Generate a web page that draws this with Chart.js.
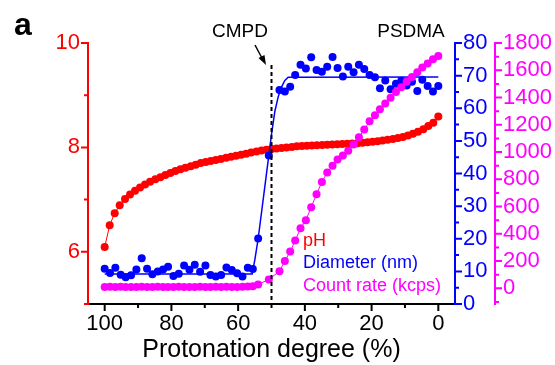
<!DOCTYPE html>
<html lang="en">
<head>
<meta charset="UTF-8">
<title>pH / diameter / count rate vs protonation degree</title>
<script src="https://cdn.jsdelivr.net/npm/chart.js"></script>
<style>
  html, body { margin: 0; padding: 0; background: #fff; }
  #wrap { width: 555px; height: 365px; }
</style>
</head>
<body>
<div id="wrap"><canvas id="chart" width="555" height="365"></canvas></div>
<script>
// titration: pH readings
const phX = [100.0, 98.5, 97.0, 95.5, 93.9, 92.4, 90.9, 89.4, 87.9, 86.4, 84.8, 83.3, 81.8, 80.3, 78.8, 77.3, 75.8,
  74.2, 72.7, 71.2, 69.7, 68.2, 66.7, 65.2, 63.6, 62.1, 60.6, 59.1, 57.6, 56.1, 54.5, 53.0, 51.5, 50.0, 48.5, 47.0,
  45.5, 43.9, 42.4, 40.9, 39.4, 37.9, 36.4, 34.8, 33.3, 31.8, 30.3, 28.8, 27.3, 25.8, 24.2, 22.7, 21.2, 19.7, 18.2,
  16.7, 15.2, 13.6, 12.1, 10.6, 9.1, 7.6, 6.1, 4.5, 3.0, 1.5, 0.0];
const phVals = [6.09, 6.51, 6.74, 6.89, 7.01, 7.10, 7.17, 7.23, 7.29, 7.34, 7.39, 7.43, 7.47, 7.51, 7.55, 7.58, 7.61,
  7.64, 7.67, 7.70, 7.72, 7.74, 7.76, 7.78, 7.80, 7.82, 7.84, 7.86, 7.88, 7.90, 7.92, 7.94, 7.955, 7.97, 7.98, 7.99,
  8.00, 8.01, 8.02, 8.025, 8.03, 8.035, 8.04, 8.045, 8.05, 8.055, 8.06, 8.065, 8.07, 8.075, 8.08, 8.09, 8.10, 8.11, 8.12,
  8.13, 8.145, 8.16, 8.18, 8.20, 8.23, 8.26, 8.30, 8.35, 8.41, 8.47, 8.59];

// DLS readings (diameter and count rate share the same x)
const dlsX = [100.0, 98.4, 96.8, 95.2, 93.7, 92.1, 90.5, 88.9, 87.3, 85.7, 84.1, 82.5, 81.0, 79.4, 77.8, 76.2, 74.6,
  73.0, 71.4, 69.8, 68.3, 66.7, 65.1, 63.5, 61.9, 60.3, 58.7, 57.1, 55.6, 54.0, 50.8, 47.6, 46.0, 44.4, 42.9, 41.3,
  39.7, 38.1, 36.5, 34.9, 33.3, 31.7, 30.2, 28.6, 27.0, 25.4, 23.8, 22.2, 20.6, 19.0, 17.5, 15.9, 14.3, 12.7, 11.1,
  9.5, 7.9, 6.3, 4.8, 3.2, 1.6, 0.0];
const diameter = [10.8, 9.5, 11.1, 9.0, 8.2, 8.8, 10.6, 14.0, 10.8, 9.1, 10.0, 10.6, 11.4, 8.6, 9.3, 11.8, 10.5,
  12.0, 9.9, 11.8, 8.9, 8.4, 8.9, 11.2, 10.4, 9.4, 8.4, 11.1, 10.7, 20.1, 45.5, 65.6, 65.1, 66.6, 70.2, 73.3,
  72.2, 75.6, 71.7, 71.2, 72.7, 75.7, 72.3, 69.7, 72.7, 71.0, 73.3, 72.0, 70.2, 69.5, 66.1, 68.5, 65.8, 67.5, 68.4,
  67.0, 68.1, 65.3, 68.7, 66.8, 65.1, 66.8];
const countRate = [10, 12, 10, 11, 10, 9, 10, 11, 10, 10, 12, 10, 9, 10, 11, 10, 10,
  9, 11, 10, 10, 12, 10, 11, 10, 10, 12, 13, 15, 28, 65, 125, 200, 270, 350, 440,
  500, 595, 690, 780, 850, 900, 945, 975, 1010, 1055, 1108, 1165, 1225, 1270, 1314, 1357, 1398, 1440, 1475,
  1515, 1550, 1585, 1620, 1650, 1680, 1705];

// fitted diameter curve
const fitX = [100, 55.8, 55, 54, 52, 50, 49, 48, 47, 46, 45, 0];
const fitD = [9.2, 9.2, 13.5, 20, 36, 52, 59, 63.5, 66.5, 68.5, 69.5, 69.6];

// tick labels / marks
const xMajor = [100, 80, 60, 40, 20, 0];
const xMinor = [90, 70, 50, 30, 10];
const phMajor = [6, 8, 10];
const phMinor = [5, 7, 9];
const dMajor = [0, 10, 20, 30, 40, 50, 60, 70, 80];
const dMinor = [5, 15, 25, 35, 45, 55, 65, 75];
const cMajor = [0, 200, 400, 600, 800, 1000, 1200, 1400, 1600, 1800];
const cMinor = [-100, 100, 300, 500, 700, 900, 1100, 1300, 1500, 1700];

const FONT = '"Liberation Sans", Arial, sans-serif';
const RED = '#ff0000', BLUE = '#0000ff', PINK = '#ff00ff';

function pts(xs, ys) { return xs.map((x, i) => ({ x: x, y: ys[i] })); }
function setTicks(vals) { return s => { s.ticks = vals.map(v => ({ value: v })); }; }
const plain = v => String(v);

// short minor ticks + long major ticks, plus the text and markers on top
const decorPlugin = {
  id: 'decor',
  afterDraw(chart) {
    const ctx = chart.ctx;
    const a = chart.chartArea;
    const sx = chart.scales.x, sy = chart.scales.y, s1 = chart.scales.y1, s2 = chart.scales.y2;
    ctx.save();
    ctx.lineWidth = 2;

    function yTicks(scale, x0, dir, majors, minors, color) {
      ctx.strokeStyle = color;
      ctx.beginPath();
      majors.forEach(v => { const y = scale.getPixelForValue(v); ctx.moveTo(x0, y); ctx.lineTo(x0 + dir * 7, y); });
      minors.forEach(v => { const y = scale.getPixelForValue(v); ctx.moveTo(x0, y); ctx.lineTo(x0 + dir * 4, y); });
      ctx.stroke();
    }
    yTicks(sy, a.left, -1, phMajor, phMinor, RED);
    yTicks(s1, s1.left, 1, dMajor, dMinor, BLUE);
    yTicks(s2, s2.left, 1, cMajor, cMinor, PINK);

    ctx.strokeStyle = '#000';
    ctx.beginPath();
    xMajor.forEach(v => { const x = sx.getPixelForValue(v); ctx.moveTo(x, a.bottom); ctx.lineTo(x, a.bottom + 7); });
    xMinor.forEach(v => { const x = sx.getPixelForValue(v); ctx.moveTo(x, a.bottom); ctx.lineTo(x, a.bottom + 4); });
    ctx.stroke();

    // CMPD marker line
    const xc = sx.getPixelForValue(50);
    ctx.setLineDash([4, 3]);
    ctx.lineWidth = 2;
    ctx.beginPath();
    ctx.moveTo(xc, 65);
    ctx.lineTo(xc, a.bottom);
    ctx.stroke();
    ctx.setLineDash([]);

    // arrow
    ctx.lineWidth = 1.5;
    ctx.beginPath();
    ctx.moveTo(255, 45);
    ctx.lineTo(263, 60);
    ctx.stroke();
    ctx.fillStyle = '#000';
    ctx.beginPath();
    ctx.moveTo(266, 65);
    ctx.lineTo(258.5, 58);
    ctx.lineTo(264.5, 55);
    ctx.closePath();
    ctx.fill();

    ctx.textBaseline = 'middle';
    ctx.textAlign = 'center';
    ctx.font = '19px ' + FONT;
    ctx.fillText('CMPD', 240, 32);
    ctx.fillText('PSDMA', 411, 32);

    ctx.font = 'bold 32px ' + FONT;
    ctx.textAlign = 'left';
    ctx.textBaseline = 'alphabetic';
    ctx.fillText('a', 14, 35);

    ctx.font = '18px ' + FONT;
    ctx.textBaseline = 'middle';
    ctx.fillStyle = RED;
    ctx.fillText('pH', 303, 241);
    ctx.fillStyle = BLUE;
    ctx.fillText('Diameter (nm)', 303, 263);
    ctx.fillStyle = PINK;
    ctx.fillText('Count rate (kcps)', 303, 286);
    ctx.restore();
  }
};

new Chart(document.getElementById('chart'), {
  type: 'scatter',
  data: {
    datasets: [
      {
        label: 'Count rate (kcps)',
        data: pts(dlsX, countRate),
        yAxisID: 'y2',
        order: 0,
        showLine: true,
        borderColor: PINK,
        borderWidth: 1,
        backgroundColor: PINK,
        pointRadius: 4,
        pointBorderWidth: 0
      },
      {
        label: 'Diameter (nm)',
        data: pts(dlsX, diameter),
        yAxisID: 'y1',
        order: 1,
        showLine: false,
        borderColor: BLUE,
        backgroundColor: BLUE,
        pointRadius: 4,
        pointBorderWidth: 0
      },
      {
        label: 'fit',
        data: pts(fitX, fitD),
        yAxisID: 'y1',
        order: 2,
        showLine: true,
        borderColor: BLUE,
        borderWidth: 1.5,
        pointRadius: 0,
        tension: 0
      },
      {
        label: 'pH',
        data: pts(phX, phVals),
        yAxisID: 'y',
        order: 3,
        showLine: true,
        borderColor: RED,
        borderWidth: 1,
        backgroundColor: RED,
        pointRadius: 4,
        pointBorderWidth: 0
      }
    ]
  },
  options: {
    responsive: false,
    animation: false,
    events: [],
    layout: { padding: { top: 43, left: 0, right: 0, bottom: 0 } },
    plugins: { legend: { display: false }, tooltip: { enabled: false } },
    scales: {
      x: {
        type: 'linear',
        position: 'bottom',
        reverse: true,
        min: -5,
        max: 105,
        afterBuildTicks: setTicks(xMajor),
        afterFit: s => { s.height = 61; },
        grid: { display: false, drawTicks: true, tickLength: 7 },
        border: { display: true, color: '#000', width: 2 },
        ticks: { color: '#000', font: { family: FONT, size: 22 }, padding: 0, maxRotation: 0,
          autoSkip: false, callback: plain },
        title: { display: true, text: 'Protonation degree (%)', color: '#000',
          font: { family: FONT, size: 25 }, padding: { top: 0, bottom: 0 } }
      },
      y: {
        type: 'linear',
        position: 'left',
        min: 5,
        max: 10,
        afterBuildTicks: setTicks(phMajor),
        afterFit: s => { s.width = 88; },
        grid: { display: false, drawTicks: true, tickLength: 7 },
        border: { display: true, color: RED, width: 2 },
        ticks: { color: RED, font: { family: FONT, size: 22 }, padding: 1, autoSkip: false, callback: plain }
      },
      y1: {
        type: 'linear',
        position: 'right',
        min: 0,
        max: 80,
        afterBuildTicks: setTicks(dMajor),
        afterFit: s => { s.width = 40; },
        grid: { display: false, drawTicks: true, tickLength: 7 },
        border: { display: true, color: BLUE, width: 2 },
        ticks: { color: BLUE, font: { family: FONT, size: 22 }, padding: 1, autoSkip: false, callback: plain }
      },
      y2: {
        type: 'linear',
        position: 'right',
        min: -115,
        max: 1800,
        afterBuildTicks: setTicks(cMajor),
        afterFit: s => { s.width = 60; },
        grid: { display: false, drawTicks: true, tickLength: 7 },
        border: { display: true, color: PINK, width: 2 },
        ticks: { color: PINK, font: { family: FONT, size: 22 }, padding: 1, autoSkip: false, callback: plain }
      }
    }
  },
  plugins: [decorPlugin]
});
</script>
</body>
</html>
